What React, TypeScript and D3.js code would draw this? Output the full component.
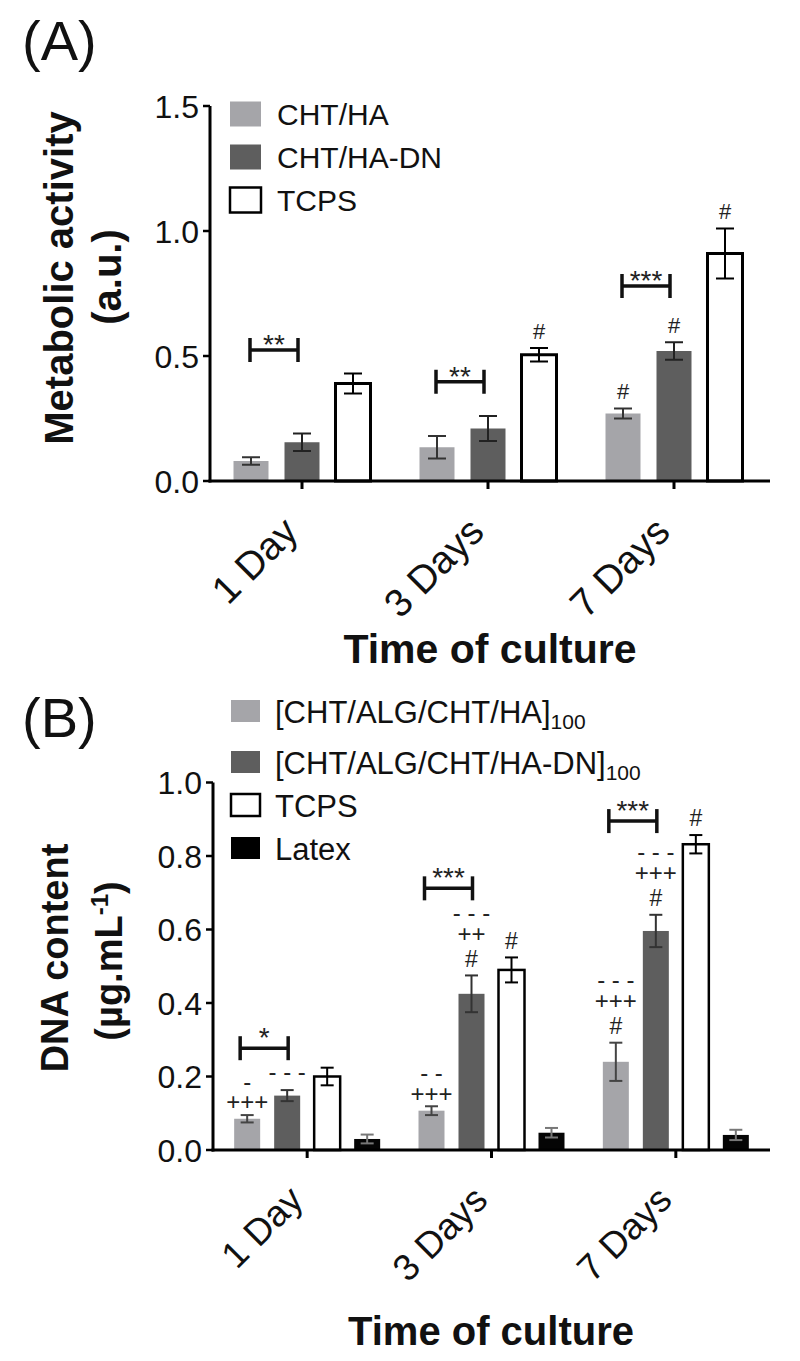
import React from "react";
import * as d3 from "d3";

const FONT = "'Liberation Sans', Arial, Helvetica, sans-serif";

const days = ["1 Day", "3 Days", "7 Days"];

// ---------- Panel A : metabolic activity ----------
const seriesA = ["CHT/HA", "CHT/HA-DN", "TCPS"];
const chtHaA = [0.08, 0.135, 0.27];
const chtHaErrA = [0.015, 0.045, 0.02];
const chtHaDnA = [0.155, 0.21, 0.52];
const chtHaDnErrA = [0.035, 0.05, 0.035];
const tcpsA = [0.39, 0.505, 0.91];
const tcpsErrA = [0.04, 0.027, 0.1];
const yTicksA = [0, 0.5, 1.0, 1.5];
const sigA = [
  { day: 0, y: 0.524, label: "**" },
  { day: 1, y: 0.397, label: "**" },
  { day: 2, y: 0.78, label: "***" },
];
const marksA = [
  { day: 1, s: 2, lines: ["#"] },
  { day: 2, s: 0, lines: ["#"] },
  { day: 2, s: 1, lines: ["#"] },
  { day: 2, s: 2, lines: ["#"] },
];

// ---------- Panel B : DNA content ----------
const seriesB = ["[CHT/ALG/CHT/HA]", "[CHT/ALG/CHT/HA-DN]", "TCPS", "Latex"];
const seriesBSub = ["100", "100", "", ""];
const chtHaB = [0.085, 0.107, 0.24];
const chtHaErrB = [0.01, 0.012, 0.052];
const chtHaDnB = [0.148, 0.425, 0.596];
const chtHaDnErrB = [0.015, 0.05, 0.044];
const tcpsB = [0.2, 0.49, 0.832];
const tcpsErrB = [0.024, 0.034, 0.025];
const latexB = [0.03, 0.047, 0.041];
const latexErrB = [0.012, 0.013, 0.014];
const yTicksB = [0, 0.2, 0.4, 0.6, 0.8, 1.0];
const sigB = [
  { day: 0, y: 0.277, label: "*" },
  { day: 1, y: 0.712, label: "***" },
  { day: 2, y: 0.895, label: "***" },
];
const marksB = [
  { day: 0, s: 0, lines: ["+++", "-"] },
  { day: 0, s: 1, lines: ["- - -"] },
  { day: 1, s: 0, lines: ["+++", "- -"] },
  { day: 1, s: 1, lines: ["#", "++", "- - -"] },
  { day: 1, s: 2, lines: ["#"] },
  { day: 2, s: 0, lines: ["#", "+++", "- - -"] },
  { day: 2, s: 1, lines: ["#", "+++", "- - -"] },
  { day: 2, s: 2, lines: ["#"] },
];

const LIGHT = "#a5a5a9";
const DARK = "#5e5e5e";

type PanelCfg = {
  values: number[][];
  errors: number[][];
  fills: string[];
  strokes: (string | null)[];
  errColors: string[];
  y: d3.ScaleLinear<number, number>;
  x: d3.ScaleBand<string>;
  inner: d3.ScaleBand<number>;
  axisX0: number;
  axisX1: number;
  barW: number;
  capW: number;
  outlineW: number;
  yTicks: number[];
  tickFont: number;
  xLabelFont: number;
  xLabelDy: number;
  sig: { day: number; y: number; label: string }[];
  sigPad: [number, number];
  starsAbove: number;
  marks: { day: number; s: number; lines: string[] }[];
  markFont: number;
};

function glyphK(line: string) {
  if (line.startsWith("#")) return 0.36;
  if (line.startsWith("+")) return 0.35;
  return 0.27;
}

function Panel({ c }: { c: PanelCfg }) {
  const y0 = c.y(0);
  const yTop = c.y(c.yTicks[c.yTicks.length - 1]);
  const cx = (d: number, s: number) =>
    (c.x(days[d]) as number) + c.x.bandwidth() / 2 + (c.inner(s) as number) + c.inner.bandwidth() / 2;
  const gx = (d: number) => (c.x(days[d]) as number) + c.x.bandwidth() / 2;

  return (
    <g>
      {/* bars */}
      {c.values.map((vals, s) =>
        vals.map((v, d) => {
          const xc = cx(d, s);
          const sw = c.strokes[s] ? c.outlineW : 0;
          return (
            <rect
              key={`b${s}-${d}`}
              x={xc - c.barW / 2}
              y={c.y(v)}
              width={c.barW}
              height={y0 - c.y(v)}
              fill={c.fills[s]}
              stroke={c.strokes[s] || "none"}
              strokeWidth={sw}
            />
          );
        })
      )}
      {/* error bars */}
      {c.values.map((vals, s) =>
        vals.map((v, d) => {
          const xc = cx(d, s);
          const e = c.errors[s][d];
          const yt = c.y(v + e);
          const yb = c.y(Math.max(0, v - e));
          return (
            <g key={`e${s}-${d}`} stroke={c.errColors[s]} strokeWidth={2}>
              <line x1={xc} x2={xc} y1={yt} y2={yb} />
              <line x1={xc - c.capW / 2} x2={xc + c.capW / 2} y1={yt} y2={yt} />
              <line x1={xc - c.capW / 2} x2={xc + c.capW / 2} y1={yb} y2={yb} />
            </g>
          );
        })
      )}
      {/* axes */}
      <line x1={c.axisX0} x2={c.axisX0} y1={y0 + 1.5} y2={yTop} stroke="#000" strokeWidth={3} />
      <line x1={c.axisX0 - 1.5} x2={c.axisX1} y1={y0} y2={y0} stroke="#000" strokeWidth={3} />
      {c.yTicks.map((t) => (
        <g key={`yt${t}`}>
          <line x1={c.axisX0 - 7} x2={c.axisX0} y1={c.y(t)} y2={c.y(t)} stroke="#000" strokeWidth={2.5} />
          <text
            x={c.axisX0 - 11}
            y={c.y(t)}
            dy="0.36em"
            textAnchor="end"
            fontSize={c.tickFont}
            fontFamily={FONT}
            fill="#111"
          >
            {d3.format(".1f")(t)}
          </text>
        </g>
      ))}
      {days.map((dname, d) => (
        <g key={`xt${d}`}>
          <line x1={gx(d)} x2={gx(d)} y1={y0} y2={y0 + 8} stroke="#000" strokeWidth={3} />
          <text
            transform={`translate(${gx(d) - 2},${y0 + c.xLabelDy}) rotate(-45)`}
            textAnchor="end"
            fontSize={c.xLabelFont}
            fontFamily={FONT}
            fill="#111"
          >
            {dname}
          </text>
        </g>
      ))}
      {/* significance brackets */}
      {c.sig.map((sg, i) => {
        const x1 = cx(sg.day, 0) + c.sigPad[0];
        const x2 = cx(sg.day, 1) + c.sigPad[1];
        const yy = c.y(sg.y);
        return (
          <g key={`sg${i}`}>
            <g stroke="#111" strokeWidth={3.5} fill="none">
              <line x1={x1} x2={x2} y1={yy} y2={yy} />
              <line x1={x1} x2={x1} y1={yy - 12} y2={yy + 12} />
              <line x1={x2} x2={x2} y1={yy - 12} y2={yy + 12} />
            </g>
            <text
              x={(x1 + x2) / 2}
              y={yy - c.starsAbove + 0.57 * 28}
              textAnchor="middle"
              fontSize={28}
              fontFamily={FONT}
              fill="#222"
            >
              {sg.label}
            </text>
          </g>
        );
      })}
      {/* annotation stacks */}
      {c.marks.map((m, i) => {
        const xc = cx(m.day, m.s);
        const errTop = c.y(c.values[m.s][m.day] + c.errors[m.s][m.day]);
        let off = m.lines[0].startsWith("+") ? 13 : 17;
        const out: JSX.Element[] = [];
        m.lines.forEach((ln, j) => {
          if (j > 0) off += m.lines[j - 1].startsWith("#") ? 25 : 19;
          const fs = ln.startsWith("#") ? c.markFont - 1 : c.markFont;
          out.push(
            <text
              key={`m${i}-${j}`}
              x={xc}
              y={errTop - off + glyphK(ln) * fs}
              textAnchor="middle"
              fontSize={fs}
              fontFamily={FONT}
              fill="#222"
            >
              {ln}
            </text>
          );
        });
        return <g key={`mk${i}`}>{out}</g>;
      })}
    </g>
  );
}

export default function App() {
  const yA = d3.scaleLinear().domain([0, 1.5]).range([481, 106]);
  const xA = d3.scaleBand<string>().domain(days).range([209, 767]);
  const innerA = d3.scaleBand<number>().domain([0, 1, 2]).range([-76.5, 76.5]);

  const yB = d3.scaleLinear().domain([0, 1.0]).range([1150, 782.5]);
  const xB = d3.scaleBand<string>().domain(days).range([215, 768]);
  const innerB = d3.scaleBand<number>().domain([0, 1, 2, 3]).range([-80, 80]);

  const cfgA: PanelCfg = {
    values: [chtHaA, chtHaDnA, tcpsA],
    errors: [chtHaErrA, chtHaDnErrA, tcpsErrA],
    fills: [LIGHT, DARK, "#fff"],
    strokes: [null, null, "#000"],
    errColors: ["#333", "#222", "#000"],
    y: yA,
    x: xA,
    inner: innerA,
    axisX0: 210,
    axisX1: 770,
    barW: 35,
    capW: 18,
    outlineW: 3,
    yTicks: yTicksA,
    tickFont: 32,
    xLabelFont: 39,
    xLabelDy: 53,
    sig: sigA,
    sigPad: [-1, -4],
    starsAbove: 12,
    marks: marksA,
    markFont: 23,
  };

  const cfgB: PanelCfg = {
    values: [chtHaB, chtHaDnB, tcpsB, latexB],
    errors: [chtHaErrB, chtHaDnErrB, tcpsErrB, latexErrB],
    fills: [LIGHT, DARK, "#fff", "#050505"],
    strokes: [null, null, "#000", null],
    errColors: ["#444", "#333", "#000", "#777"],
    y: yB,
    x: xB,
    inner: innerB,
    axisX0: 213,
    axisX1: 770,
    barW: 26,
    capW: 13,
    outlineW: 2.5,
    yTicks: yTicksB,
    tickFont: 32,
    xLabelFont: 37,
    xLabelDy: 52,
    sig: sigB,
    sigPad: [-7, 1],
    starsAbove: 17,
    marks: marksB,
    markFont: 24,
  };

  const legendA = seriesA.map((name, i) => ({ name, cy: [114, 157, 200][i] }));
  const legendB = seriesB.map((name, i) => ({ name, sub: seriesBSub[i], cy: [711, 762, 805, 848][i] }));
  const legFillA = [LIGHT, DARK, "#fff"];
  const legFillB = [LIGHT, DARK, "#fff", "#000"];

  return (
    <svg
      width={800}
      height={1361}
      style={{ position: "absolute", left: 0, top: 0, background: "#fff" }}
      fontFamily={FONT}
    >
      <rect x={0} y={0} width={800} height={1361} fill="#fff" />
      {/* Panel labels */}
      <text x={22} y={60} fontSize={56} fontFamily={FONT} fill="#111">(A)</text>
      <text x={22} y={737} fontSize={56} fontFamily={FONT} fill="#111">(B)</text>

      {/* Panel A */}
      <Panel c={cfgA} />
      <text transform="translate(73,278) rotate(-90)" textAnchor="middle" fontSize={40} fontWeight="bold" fill="#111">
        Metabolic activity
      </text>
      <text transform="translate(121,277) rotate(-90)" textAnchor="middle" fontSize={40} fontWeight="bold" fill="#111">
        (a.u.)
      </text>
      <text x={490} y={663} textAnchor="middle" fontSize={41} fontWeight="bold" fill="#111">
        Time of culture
      </text>
      {legendA.map((l, i) => (
        <g key={`la${i}`}>
          <rect
            x={230}
            y={l.cy - 12.5}
            width={31}
            height={25}
            fill={legFillA[i]}
            stroke={i === 2 ? "#000" : "none"}
            strokeWidth={2.5}
          />
          <text x={277} y={l.cy + 11} fontSize={30} fill="#111">
            {l.name}
          </text>
        </g>
      ))}

      {/* Panel B */}
      <Panel c={cfgB} />
      <text transform="translate(68,958) rotate(-90)" textAnchor="middle" fontSize={38} fontWeight="bold" fill="#111">
        DNA content
      </text>
      <text transform="translate(122,961) rotate(-90)" textAnchor="middle" fontSize={38} fontWeight="bold" fill="#111">
        (µg.mL<tspan fontSize={24} dy={-14}>-1</tspan>
        <tspan dy={14}>)</tspan>
      </text>
      <text x={491} y={1345} textAnchor="middle" fontSize={40} fontWeight="bold" fill="#111">
        Time of culture
      </text>
      {legendB.map((l, i) => (
        <g key={`lb${i}`}>
          <rect
            x={231}
            y={l.cy - 11}
            width={29}
            height={22}
            fill={legFillB[i]}
            stroke={i === 2 ? "#000" : "none"}
            strokeWidth={2.5}
          />
          <text x={275} y={l.cy + 12} fontSize={31} fill="#111">
            {l.name}
            {l.sub ? (
              <tspan fontSize={21} dy={6}>
                {l.sub}
              </tspan>
            ) : null}
          </text>
        </g>
      ))}
    </svg>
  );
}
